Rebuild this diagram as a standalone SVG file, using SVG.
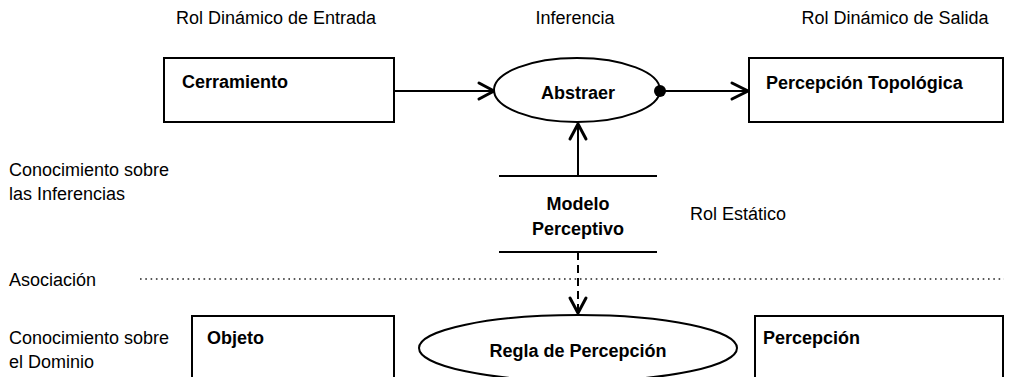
<svg xmlns="http://www.w3.org/2000/svg" width="1019" height="377" viewBox="0 0 1019 377">
<style>
.lbl{font-family:"Liberation Sans",Arial,sans-serif;font-size:18px;fill:#000}
.b{font-family:"Liberation Sans",Arial,sans-serif;font-size:18px;font-weight:bold;fill:#000}
.shape{fill:#fff;stroke:#000;stroke-width:2}
.ln{fill:none;stroke:#000;stroke-width:2}
.head{fill:none;stroke:#000;stroke-width:3;stroke-linecap:round;stroke-linejoin:miter}
</style>
<rect width="1019" height="377" fill="#fff"/>
<g id="labels">
<text class="lbl" x="276" y="24" text-anchor="middle">Rol Dinámico de Entrada</text>
<text class="lbl" x="575" y="24" text-anchor="middle">Inferencia</text>
<text class="lbl" x="895" y="24" text-anchor="middle">Rol Dinámico de Salida</text>
<text class="lbl" x="9" y="176">Conocimiento sobre</text>
<text class="lbl" x="9" y="200">las Inferencias</text>
<text class="lbl" x="690" y="220">Rol Estático</text>
<text class="lbl" x="9" y="286">Asociación</text>
<text class="lbl" x="9" y="344">Conocimiento sobre</text>
<text class="lbl" x="9" y="368">el Dominio</text>
</g>
<g id="connectors">
<line class="ln" x1="394" y1="91" x2="492" y2="91"/>
<polyline class="head" points="479,83 494,91 479,99"/>
<line class="ln" x1="660" y1="91" x2="746" y2="91"/>
<polyline class="head" points="732,83 748,91 732,99"/>
<line class="ln" x1="578" y1="176" x2="578" y2="125"/>
<polyline class="head" points="570,139 578,124 586,139"/>
<line class="ln" x1="578" y1="252" x2="578" y2="311" stroke-dasharray="8,5"/>
<polyline class="head" points="570,298 578,313 586,298"/>
<line x1="140" y1="279" x2="1004" y2="279" stroke="#222" stroke-width="1.6" stroke-dasharray="1.6,3.7"/>
</g>
<g id="cerramiento">
<rect class="shape" x="164" y="58" width="230" height="64"/>
<text class="b" x="182" y="88">Cerramiento</text>
</g>
<g id="abstraer">
<ellipse class="shape" cx="577" cy="90" rx="83" ry="32"/>
<text class="b" x="578" y="99" text-anchor="middle">Abstraer</text>
<circle cx="660" cy="91" r="6" fill="#000"/>
</g>
<g id="percepcion-topologica">
<rect class="shape" x="749" y="58" width="254" height="64"/>
<text class="b" x="766" y="89">Percepción Topológica</text>
</g>
<g id="modelo-perceptivo">
<line class="ln" x1="499" y1="176" x2="657" y2="176"/>
<line class="ln" x1="499" y1="252" x2="657" y2="252"/>
<text class="b" x="578" y="210" text-anchor="middle">Modelo</text>
<text class="b" x="578" y="235" text-anchor="middle">Perceptivo</text>
</g>
<g id="objeto">
<rect class="shape" x="192" y="316" width="202" height="80"/>
<text class="b" x="207" y="344">Objeto</text>
</g>
<g id="regla-de-percepcion">
<ellipse class="shape" cx="578" cy="348" rx="159" ry="33"/>
<text class="b" x="578" y="357" text-anchor="middle">Regla de Percepción</text>
</g>
<g id="percepcion">
<rect class="shape" x="755" y="316" width="248" height="80"/>
<text class="b" x="763" y="344">Percepción</text>
</g>
</svg>
